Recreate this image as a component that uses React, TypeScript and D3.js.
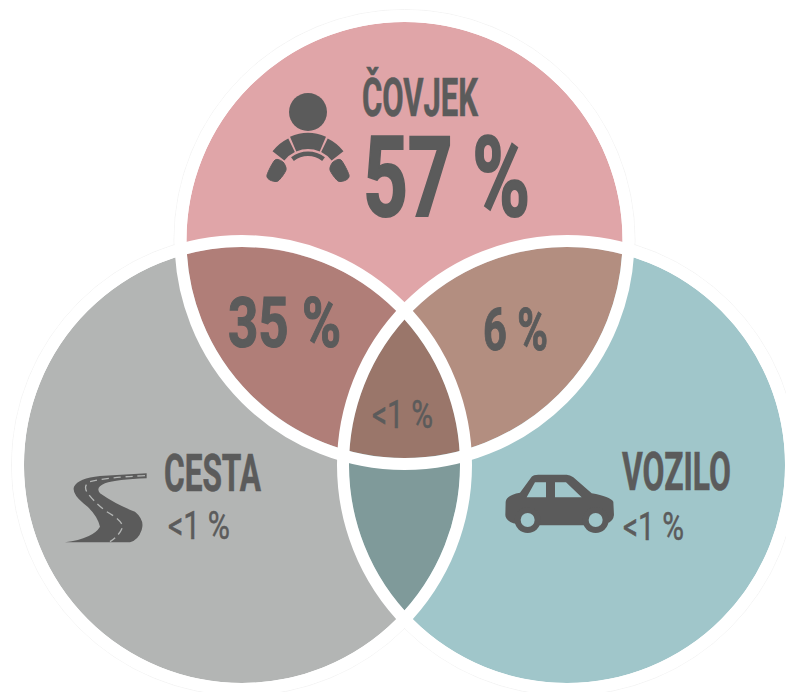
import React from "react"
import * as d3 from "d3"

// venn sets
const setNames = ["ČOVJEK", "CESTA", "VOZILO"]
const setValues = ["57 %", "<1 %", "<1 %"]
const setColors = ["#e0a5a8", "#b3b5b4", "#a0c6ca"]
// overlaps
const overlapValues = ["35 %", "6 %", "<1 %"]
const overlapColors = ["#b07e78", "#b38e80", "#7f9a9a", "#9a766a"]

const WIDTH = 786
const HEIGHT = 692
const R = 218
const RING = 12
const INK = "#5b5b5b"
const FONT = "'Liberation Sans Narrow', Roboto, sans-serif"

const centers = [
  { x: 404.5, y: 240 },
  { x: 242, y: 465 },
  { x: 567, y: 465 },
]

const disc = d3.arc<any>()({
  innerRadius: 0,
  outerRadius: R,
  startAngle: 0,
  endAngle: 2 * Math.PI,
}) as string

const at = (i: number) => `translate(${centers[i].x},${centers[i].y})`

function Label(props: {
  x: number
  y: number
  w: number
  size: number
  weight?: number
  heavy?: number
  children: string
}) {
  return (
    <text
      x={props.x}
      y={props.y}
      fontSize={props.size}
      fontWeight={props.weight ?? 700}
      fontFamily={FONT}
      fill={INK}
      stroke={INK}
      strokeWidth={props.heavy ?? 0}
      textLength={props.w}
      lengthAdjust="spacingAndGlyphs"
    >
      {props.children}
    </text>
  )
}

function Driver() {
  const cx = 308
  const cy = 179
  const sector = (a0: number, a1: number, r0: number, r1: number) =>
    d3.arc<any>()({
      innerRadius: r0,
      outerRadius: r1,
      startAngle: (a0 * Math.PI) / 180,
      endAngle: (a1 * Math.PI) / 180,
      cornerRadius: 2,
    }) as string
  const hand = d3.line().curve(d3.curveCardinalClosed.tension(0.2))([
    [267, 175],
    [275, 160],
    [283, 162],
    [286, 170],
    [278, 181],
    [270, 180],
  ]) as string
  return (
    <g fill={INK}>
      <circle cx={cx} cy={112} r={19} />
      <g transform={`translate(${cx},${cy})`}>
        <path d={sector(-23, 23, 30, 46)} />
        <path d={sector(-52, -26, 30, 45)} />
        <path d={sector(26, 52, 30, 45)} />
        <path d={sector(-38, 38, 23, 27.5)} />
      </g>
      <path d={hand} stroke={INK} strokeWidth={1} />
      <path
        d={hand}
        stroke={INK}
        strokeWidth={1}
        transform={`translate(${2 * cx},0) scale(-1,1)`}
      />
    </g>
  )
}

function Road() {
  return (
    <g transform="translate(50,440) scale(0.3333)">
      <path
        fill={INK}
        d="M45,307 Q130,295 150,260 Q140,220 100,190 Q65,160 72,140 Q85,115 150,108 L290,100 L290,115 Q200,118 165,130 Q135,142 150,160 Q200,195 255,215 Q285,240 275,270 Q265,300 240,307 Z"
      />
      <path
        fill="none"
        stroke={setColors[1]}
        strokeWidth={4}
        strokeDasharray="22 14"
        d="M285,107 Q170,112 120,125 Q100,135 110,155 Q130,185 170,215 Q215,240 218,260 Q210,285 180,305"
      />
    </g>
  )
}

function Car() {
  return (
    <g transform="translate(490,440) scale(0.3333)">
      <path
        fill={INK}
        fillRule="evenodd"
        d="M47,185 Q50,165 90,158 L125,110 Q130,104 145,104 L230,104 Q240,104 250,112 L305,160 Q360,170 370,185 L372,225 Q370,245 350,250 L290,256 L100,256 L70,250 Q46,240 46,225 Z M110,172 L135,127 L168,127 L168,172 Z M195,127 L228,127 L275,172 L195,172 Z"
      />
      {[113, 317].map(x => (
        <g key={x}>
          <circle cx={x} cy={240} r={39} fill={INK} />
          <circle cx={x} cy={240} r={21} fill={setColors[2]} />
        </g>
      ))}
    </g>
  )
}

export default function App() {
  const pairs = [
    [0, 1, overlapColors[0]],
    [0, 2, overlapColors[1]],
    [1, 2, overlapColors[2]],
  ] as [number, number, string][]

  return (
    <svg
      width={WIDTH}
      height={HEIGHT}
      viewBox={`0 0 ${WIDTH} ${HEIGHT}`}
      style={{ position: "absolute", left: 0, top: 0, display: "block" }}
    >
      <defs>
        {centers.map((_, i) => (
          <clipPath id={`clip${i}`} key={i}>
            <path d={disc} transform={at(i)} />
          </clipPath>
        ))}
      </defs>

      {/* faint edge of the white halo */}
      {centers.map((_, i) => (
        <circle
          key={i}
          cx={centers[i].x}
          cy={centers[i].y}
          r={R + RING + 0.5}
          fill="none"
          stroke="#f1f1f1"
          strokeWidth={0.8}
        />
      ))}

      {setColors.map((c, i) => (
        <path key={i} d={disc} transform={at(i)} fill={c} />
      ))}

      {pairs.map(([a, b, c]) => (
        <g key={`${a}${b}`} clipPath={`url(#clip${a})`}>
          <path d={disc} transform={at(b)} fill={c} />
        </g>
      ))}
      <g clipPath="url(#clip0)">
        <g clipPath="url(#clip1)">
          <path d={disc} transform={at(2)} fill={overlapColors[3]} />
        </g>
      </g>

      {centers.map((_, i) => (
        <circle
          key={i}
          cx={centers[i].x}
          cy={centers[i].y}
          r={R + RING / 2}
          fill="none"
          stroke="#fff"
          strokeWidth={RING}
        />
      ))}

      <Driver />
      <Road />
      <Car />

      <Label x={362} y={116} w={116} size={53} heavy={0.6}>{setNames[0]}</Label>
      <Label x={363} y={216} w={167} size={111} heavy={2}>{setValues[0]}</Label>
      <Label x={164} y={491} w={97} size={51} heavy={0.6}>{setNames[1]}</Label>
      <Label x={168} y={539} w={62} size={38} weight={400} heavy={0.5}>{setValues[1]}</Label>
      <Label x={622} y={490} w={109} size={53} heavy={0.6}>{setNames[2]}</Label>
      <Label x={623} y={540} w={61} size={38} weight={400} heavy={0.5}>{setValues[2]}</Label>
      <Label x={228} y={347} w={113} size={70} heavy={1.2}>{overlapValues[0]}</Label>
      <Label x={483} y={350} w={65} size={59} heavy={1}>{overlapValues[1]}</Label>
      <Label x={372} y={428} w={61} size={39} weight={400} heavy={0.5}>{overlapValues[2]}</Label>
    </svg>
  )
}
